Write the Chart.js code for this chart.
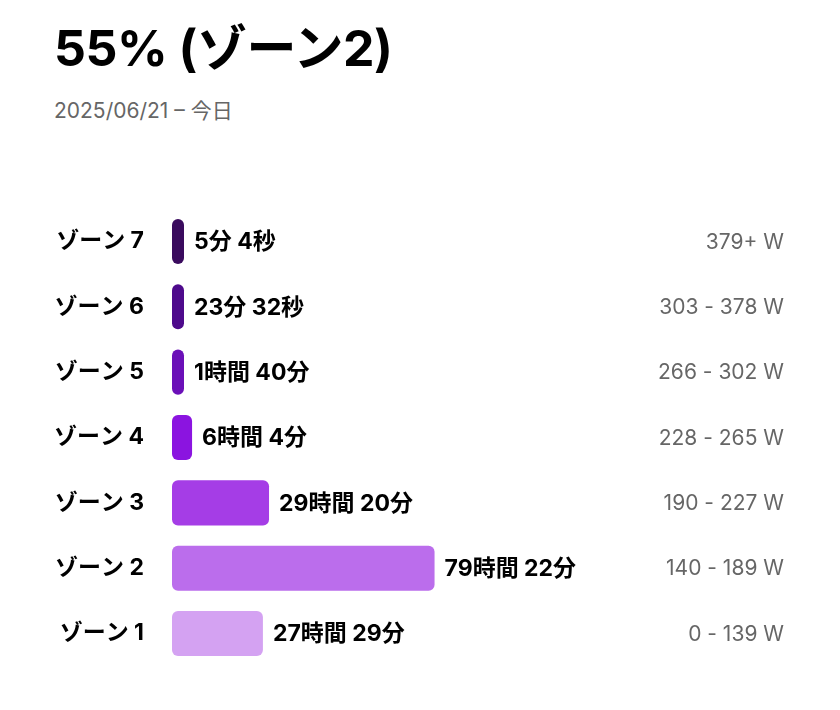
<!DOCTYPE html>
<html><head><meta charset="utf-8">
<script src="https://cdn.jsdelivr.net/npm/chart.js@4"></script>
<style>
body{margin:0;background:#fff;width:840px;height:710px;overflow:hidden;font-family:Inter,"Noto Sans CJK JP",sans-serif;}
#t{position:absolute;left:54px;top:8px;font-size:50px;font-weight:700;color:#000;letter-spacing:-0.5px;}
#s{position:absolute;left:54px;top:94px;font-size:21px;color:#666;}
#c{position:absolute;left:0;top:175px;}
</style></head><body>
<div id="t">55% (ゾーン2)</div>
<div id="s">2025/06/21 – 今日</div>
<canvas id="c" width="840" height="525" style="width:840px;height:525px"></canvas>
<script>
const zones=["ゾーン 7","ゾーン 6","ゾーン 5","ゾーン 4","ゾーン 3","ゾーン 2","ゾーン 1"];
const hours=[0.0844,0.392,1.667,6.067,29.333,79.367,27.483];
const durations=["5分 4秒","23分 32秒","1時間 40分","6時間 4分","29時間 20分","79時間 22分","27時間 29分"];
const ranges=["379+ W","303 - 378 W","266 - 302 W","228 - 265 W","190 - 227 W","140 - 189 W","0 - 139 W"];
const colors=["#3a0b5e","#4e0a8c","#6b10b8","#8b14e0","#a53de6","#bb6dec","#d4a2f2"];
const F='Inter,"Noto Sans CJK JP",sans-serif';
const labelsPlugin={id:'lbl',afterDatasetsDraw(ch){
 const ctx=ch.ctx,meta=ch.getDatasetMeta(0),a=ch.chartArea;
 ctx.save();ctx.textBaseline='middle';
 meta.data.forEach((b,i)=>{
  ctx.font='bold 23px '+F;ctx.fillStyle='#000';ctx.textAlign='left';
  ctx.fillText(durations[i],b.x+10,b.y+1);
  ctx.font='21px '+F;ctx.fillStyle='#666';ctx.textAlign='right';
  ctx.fillText(ranges[i],a.right,b.y+1);
 });ctx.restore();}};
new Chart(document.getElementById('c'),{type:'bar',
 data:{labels:zones,datasets:[{data:hours,backgroundColor:colors,borderRadius:6,borderSkipped:false,minBarLength:12,barPercentage:0.69,categoryPercentage:1}]},
 options:{indexAxis:'y',responsive:false,animation:false,devicePixelRatio:1,
  layout:{padding:{right:56,top:0,bottom:0,left:0}},
  plugins:{legend:{display:false},tooltip:{enabled:false}},
  scales:{x:{display:false,min:0,max:185},
   y:{grid:{display:false},border:{display:false},afterFit(s){s.width=172;},
      ticks:{color:'#000',padding:20,font:{family:F,size:23,weight:'bold'}}}}},
 plugins:[labelsPlugin]});
</script></body></html>
